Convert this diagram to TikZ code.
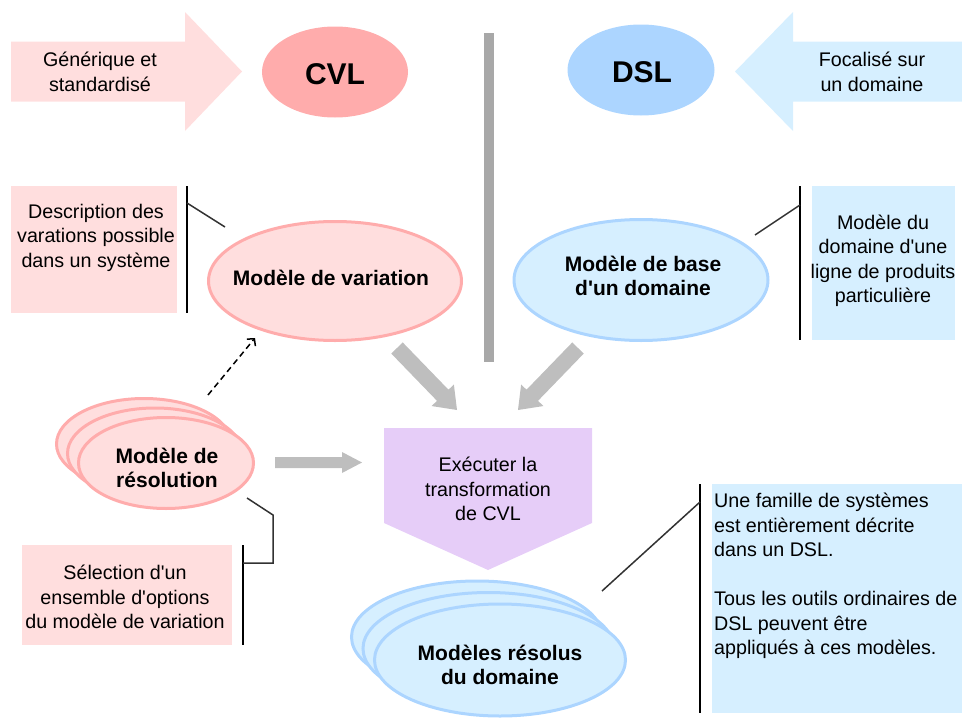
\documentclass[tikz,border=0pt]{standalone}
\usepackage{fontspec}
\setmainfont{Liberation Sans}[Ligatures=TeXOff]
\usetikzlibrary{shapes.geometric,calc,arrows.meta}
\definecolor{pinkL}{RGB}{255,222,222}
\definecolor{pinkD}{RGB}{255,172,172}
\definecolor{blueL}{RGB}{214,239,255}
\definecolor{blueD}{RGB}{172,213,255}
\definecolor{purp}{RGB}{230,205,248}
\definecolor{arrgray}{RGB}{190,190,190}
\definecolor{bargray}{RGB}{168,168,168}
\definecolor{conn}{RGB}{50,50,50}
\newcommand\fatarrow[6]{%
  \path ($(#3)!#6!(#2)$) coordinate (fa-b);
  \fill[#1] ($(#2)!#4!90:(#3)$) -- ($(fa-b)!#4!90:(#3)$) -- ($(fa-b)!#5!90:(#3)$) -- (#3)
    -- ($(fa-b)!#5!-90:(#3)$) -- ($(fa-b)!#4!-90:(#3)$) -- ($(#2)!#4!-90:(#3)$) -- cycle;}
\tikzset{
  reg/.style={font=\fontsize{19.7}{24.5}\selectfont, align=center, inner sep=0pt},
  bld/.style={font=\bfseries\fontsize{21}{24}\selectfont, align=center, inner sep=0pt},
  big/.style={font=\bfseries\fontsize{30}{34}\selectfont, inner sep=0pt},
  pinkell/.style={ellipse, draw=pinkD, fill=pinkL, line width=3pt, inner sep=0pt},
  blueell/.style={ellipse, draw=blueD, fill=blueL, line width=3pt, inner sep=0pt},
  sideline/.style={black, line width=2pt},
  callout/.style={conn, line width=1.5pt}
}
\begin{document}
\begin{tikzpicture}[x=1pt,y=-1pt]
\useasboundingbox (0,0) rectangle (962,720);
% top arrows
\coordinate (pa1) at (11,71.5); \coordinate (pa2) at (242,71.5);
\fatarrow{pinkL}{pa1}{pa2}{30pt}{59.5pt}{57pt}
\node[reg] (gen) at (100,72) {Générique et\\standardisé};
\coordinate (ba1) at (962,71.5); \coordinate (ba2) at (735,71.5);
\fatarrow{blueL}{ba1}{ba2}{30pt}{59.5pt}{58pt}
\node[reg] (foc) at (872,72) {Focalisé sur\\un domaine};
\node[ellipse, fill=pinkD, minimum width=146pt, minimum height=91pt, inner sep=0pt] (cvl) at (335,72) {};
\node[big] (cvlt) at (335,74) {CVL};
\node[ellipse, fill=blueD, minimum width=147pt, minimum height=91pt, inner sep=0pt] (dsl) at (641,70) {};
\node[big] (dslt) at (642,72) {DSL};
% vertical bar
\fill[bargray] (484,33) rectangle (494,362);
% description box
\fill[pinkL] (11,186) rectangle (177,313);
\node[reg] (desc) at (96,237.5) {Description des\\varations possible\\dans un système};
\draw[sideline] (187,186) coordinate (dl1) -- (187,313) coordinate (dl2);
\node[pinkell, minimum width=253pt, minimum height=119pt] (var) at (335,281) {};
\node[bld] (vart) at (331,278) {Modèle de variation};
\coordinate (dc1) at (187,203); \coordinate (dc2) at (225,227);
\draw[callout] (dc1) -- (dc2);
% domain box
\fill[blueL] (812,186) rectangle (955,340);
\node[reg] (dom) at (883,261) {Modèle du\\domaine d'une\\ligne de produits\\particulière};
\draw[sideline] (800,186) coordinate (ml1) -- (800,340) coordinate (ml2);
\node[blueell, minimum width=254pt, minimum height=121pt] (base) at (641,280) {};
\node[bld] (baset) at (643,276) {Modèle de base\\d'un domaine};
\coordinate (mc1) at (800,205); \coordinate (mc2) at (755,235);
\draw[callout] (mc1) -- (mc2);
% gray arrows
\coordinate (la1) at (397,348); \coordinate (la2) at (457,410);
\fatarrow{arrgray}{la1}{la2}{8pt}{15.5pt}{20.5pt}
\coordinate (ra1) at (578,348); \coordinate (ra2) at (518,410);
\fatarrow{arrgray}{ra1}{ra2}{8pt}{15.5pt}{20.5pt}
\coordinate (ha1) at (275,462.5); \coordinate (ha2) at (362,462.5);
\fatarrow{arrgray}{ha1}{ha2}{5.5pt}{10.5pt}{20pt}
% pentagon
\fill[purp] (384,428) -- (592,428) -- (592,523) -- (488,570) -- (384,523) -- cycle;
\node[reg] (exec) at (488,489) {Exécuter la\\transformation\\de CVL};
% resolution stack
\node[pinkell, minimum width=175pt, minimum height=91pt] (res3) at (144,444) {};
\node[pinkell, minimum width=175pt, minimum height=91pt] (res2) at (155,453.5) {};
\node[pinkell, minimum width=175pt, minimum height=91pt] (res1) at (166,463) {};
\node[bld] (rest) at (167,468) {Modèle de\\résolution};
% dashed arrow
\coordinate (da1) at (208,395); \coordinate (da2) at (255,338);
\draw[black, line width=1.5pt, dash pattern=on 6pt off 4pt, -{Straight Barb[length=5pt,width=11pt]}] (da1) -- (da2);
% selection box
\fill[pinkL] (22,545) rectangle (232,645);
\node[reg] (sel) at (125,597) {Sélection d'un\\ensemble d'options\\du modèle de variation};
\draw[sideline] (243,545) coordinate (sl1) -- (243,645) coordinate (sl2);
\coordinate (sc1) at (247,498); \coordinate (sc2) at (273,515);
\coordinate (sc3) at (273,563); \coordinate (sc4) at (243,563);
\draw[callout] (sc1) -- (sc2) -- (sc3) -- (sc4);
% resolved models stack
\node[blueell, minimum width=251pt, minimum height=112pt] (rs3) at (477,637) {};
\node[blueell, minimum width=251pt, minimum height=112pt] (rs2) at (488.5,648.5) {};
\node[blueell, minimum width=251pt, minimum height=112pt] (rs1) at (500,660) {};
\node[bld] (rst) at (500,665) {Modèles résolus\\du domaine};
% big box
\fill[blueL] (712,484) rectangle (962,713);
\node[font=\fontsize{19.7}{24.5}\selectfont, align=left, inner sep=0pt, anchor=north west] (fam) at (714,493)
  {Une famille de systèmes\\est entièrement décrite\\dans un DSL.\\[24.5pt]Tous les outils ordinaires de\\DSL peuvent être\\appliqués à ces modèles.};
\draw[sideline] (700,484) coordinate (fl1) -- (700,713) coordinate (fl2);
\coordinate (fc1) at (700,502); \coordinate (fc2) at (602,591);
\draw[callout] (fc1) -- (fc2);
\end{tikzpicture}
\end{document}
